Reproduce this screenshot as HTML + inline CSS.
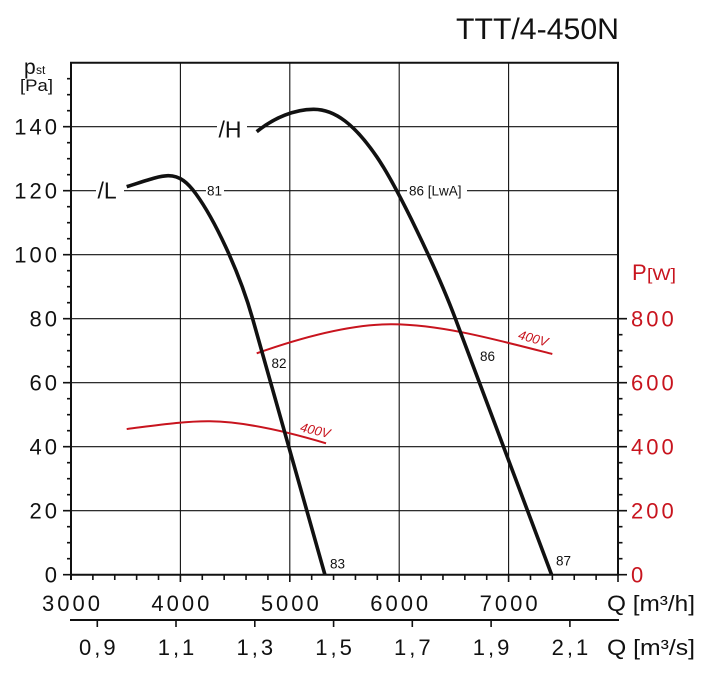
<!DOCTYPE html>
<html><head><meta charset="utf-8"><style>
html,body{margin:0;padding:0;background:#fff;}
svg{display:block;}
text{font-family:"Liberation Sans",Arial,sans-serif;}
</style></head><body>
<svg width="720" height="684" viewBox="0 0 720 684" xmlns="http://www.w3.org/2000/svg">
<rect width="720" height="684" fill="#fff"/>
<!-- title -->
<text x="456" y="39" font-size="30" fill="#111" textLength="163" lengthAdjust="spacingAndGlyphs">TTT/4-450N</text>
<!-- grid -->
<g stroke="#111" stroke-width="1.1" fill="none">
<path d="M71 510.7H618M71 446.7H618M71 382.7H618M71 318.7H618M71 254.7H618M71 190.7H618M71 126.7H618"/>
<path d="M180.4 62.7V574.7M289.8 62.7V574.7M399.2 62.7V574.7M508.6 62.7V574.7"/>
</g>
<!-- frame -->
<g stroke="#111" stroke-width="2" fill="none">
<path d="M71 580V62.7H618V574.7"/>
<path d="M70 574.7H619"/>
<path d="M70 620H619"/>
</g>
<!-- ticks -->
<g stroke="#111" stroke-width="1.6" fill="none">
<path d="M63 574.7H71M63 510.7H71M63 446.7H71M63 382.7H71M63 318.7H71M63 254.7H71M63 190.7H71M63 126.7H71"/>
<path d="M67 558.7H71M67 542.7H71M67 526.7H71M67 494.7H71M67 478.7H71M67 462.7H71M67 430.7H71M67 414.7H71M67 398.7H71M67 366.7H71M67 350.7H71M67 334.7H71M67 302.7H71M67 286.7H71M67 270.7H71M67 238.7H71M67 222.7H71M67 206.7H71M67 174.7H71M67 158.7H71M67 142.7H71M67 110.7H71M67 94.7H71M67 78.7H71"/>
<path d="M618 574.7H627M618 510.7H627M618 446.7H627M618 382.7H627M618 318.7H627"/>
<path d="M618 558.7H622.5M618 542.7H622.5M618 526.7H622.5M618 494.7H622.5M618 478.7H622.5M618 462.7H622.5M618 430.7H622.5M618 414.7H622.5M618 398.7H622.5M618 366.7H622.5M618 350.7H622.5M618 334.7H622.5"/>
<path d="M180.4 574.7V582M289.8 574.7V582M399.2 574.7V582M508.6 574.7V582M618 574.7V582"/>
<path d="M92.88 574.7V580M114.76 574.7V580M136.64 574.7V580M158.52 574.7V580M202.28 574.7V580M224.16 574.7V580M246.04 574.7V580M267.92 574.7V580M311.68 574.7V580M333.56 574.7V580M355.44 574.7V580M377.32 574.7V580M421.08 574.7V580M442.96 574.7V580M464.84 574.7V580M486.72 574.7V580M530.48 574.7V580M552.36 574.7V580M574.24 574.7V580M596.12 574.7V580"/>
<path d="M97.3 620V627M176 620V627M254.8 620V627M333.6 620V627M412.3 620V627M491.1 620V627M569.9 620V627"/>
</g>
<!-- left axis labels -->
<g font-size="22" fill="#111" letter-spacing="3" text-anchor="end">
<text x="60" y="582.7">0</text>
<text x="60" y="518.7">20</text>
<text x="60" y="454.7">40</text>
<text x="60" y="390.7">60</text>
<text x="60" y="326.7">80</text>
<text x="60" y="262.7">100</text>
<text x="60" y="198.7">120</text>
<text x="60" y="134.7">140</text>
</g>
<text x="24" y="74" font-size="21" fill="#111">p</text>
<text x="36" y="74" font-size="12" fill="#111">st</text>
<text x="20" y="91" font-size="17" fill="#111" textLength="33" lengthAdjust="spacingAndGlyphs">[Pa]</text>
<!-- right axis labels -->
<g font-size="22" fill="#c8141e" letter-spacing="3">
<text x="631" y="582.7">0</text>
<text x="631" y="518.7">200</text>
<text x="631" y="454.7">400</text>
<text x="631" y="390.7">600</text>
<text x="631" y="326.7">800</text>
</g>
<text x="632" y="280" font-size="22" fill="#c8141e">P</text>
<text x="647" y="280" font-size="17" fill="#c8141e" textLength="29" lengthAdjust="spacingAndGlyphs">[W]</text>
<!-- bottom labels -->
<g font-size="22" fill="#111" letter-spacing="3" text-anchor="middle">
<text x="72.5" y="611">3000</text>
<text x="181.9" y="611">4000</text>
<text x="291.3" y="611">5000</text>
<text x="400.7" y="611">6000</text>
<text x="510.1" y="611">7000</text>
<text x="98.8" y="655">0,9</text>
<text x="177.5" y="655">1,1</text>
<text x="256.3" y="655">1,3</text>
<text x="335.1" y="655">1,5</text>
<text x="413.8" y="655">1,7</text>
<text x="492.6" y="655">1,9</text>
<text x="571.4" y="655">2,1</text>
</g>
<text x="607" y="611" font-size="22" fill="#111" textLength="88" lengthAdjust="spacingAndGlyphs">Q [m³/h]</text>
<text x="607" y="655" font-size="22" fill="#111" textLength="88" lengthAdjust="spacingAndGlyphs">Q [m³/s]</text>
<!-- label backgrounds -->
<rect x="96" y="180" width="28" height="20" fill="#fff"/>
<rect x="217" y="119" width="30" height="20" fill="#fff"/>
<rect x="206" y="184" width="18" height="13" fill="#fff"/>
<rect x="407" y="184" width="60" height="15" fill="#fff"/>
<!-- curve labels -->
<text x="97.5" y="198.3" font-size="23" fill="#111">/L</text>
<text x="218.5" y="137.7" font-size="23" fill="#111">/H</text>
<g font-size="13.5" fill="#111">
<text x="207" y="195.5">81</text>
<text x="409" y="195.5">86 [LwA]</text>
<text x="271.5" y="368">82</text>
<text x="330" y="568.3">83</text>
<text x="480" y="361">86</text>
<text x="556" y="565.7">87</text>
</g>
<!-- red power curves -->
<g stroke="#c8141e" stroke-width="2" fill="none" stroke-linejoin="round">
<path d="M256.7,353.3 C300,338 350,324 392,324.3 C440,324.6 490,338 552.3,354"/>
<path d="M126.7,429 C155,425.5 185,421 210,421.3 C245,421.7 285,431 326,443.3"/>
</g>
<g font-size="13" fill="#c8141e" font-style="italic" text-anchor="middle">
<text x="533.3" y="342.8" transform="rotate(15 533.3 338.3)">400V</text>
<text x="315.3" y="434.8" transform="rotate(13 315.3 430.3)">400V</text>
</g>
<!-- black pressure curves -->
<g stroke="#111" stroke-width="3.6" fill="none" stroke-linejoin="round">
<path d="M126.7,186.7 C145,181 158,176 168,175.7 C180,175.5 188,183 196,194 C213.5,218 238.6,269 252.7,319 L325,575"/>
<path d="M256.7,131.7 C275,117 295,109.5 313.3,109.3 C335,109 355,125 376.7,156.7 C397.2,186.7 436.7,269 455.5,319 L551.7,575"/>
</g>
</svg>
</body></html>
